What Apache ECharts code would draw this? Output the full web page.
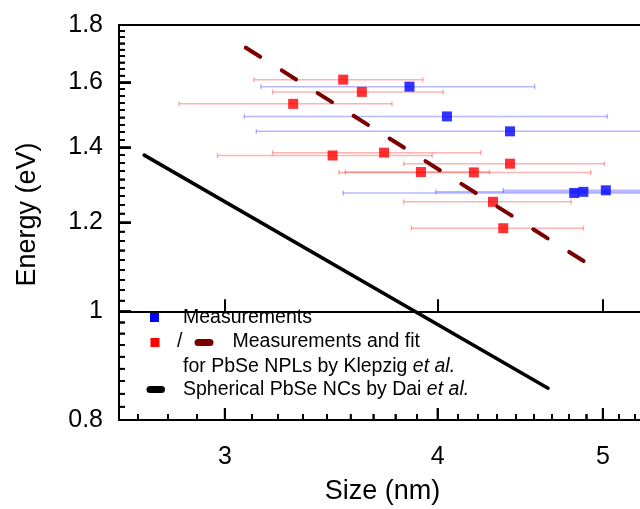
<!DOCTYPE html>
<html>
<head>
<meta charset="utf-8">
<script src="https://cdn.jsdelivr.net/npm/echarts@6/dist/echarts.min.js"></script>
<style>
  html, body { margin: 0; padding: 0; background: #fff; }
  #chart { width: 640px; height: 509px; }
</style>
</head>
<body>
<div id="chart"></div>
<script>
// axis ranges and tick labels
const xRange = [2.6, 5.3];
const yRange = [0.8, 1.8];
const xMajorTicks = [3, 4, 5];
const yMajorTicks = [0.8, 1, 1.2, 1.4, 1.6, 1.8];

// Klepzig et al. NPL measurements (red)
const redSize = [3.52, 3.61, 3.29, 3.47, 3.72, 4.41, 3.91, 4.20, 4.31, 4.37];
const redEnergy = [1.609, 1.569, 1.531, 1.377, 1.385, 1.354, 1.331, 1.330, 1.252, 1.186];
const redSizeLo = [3.12, 3.20, 2.82, 2.97, 3.20, 3.82, 3.53, 3.50, 3.82, 3.86];
const redSizeHi = [3.92, 4.03, 3.76, 3.97, 4.24, 5.01, 4.29, 4.92, 4.79, 4.87];

// own measurements (blue)
const blueSize = [3.85, 4.05, 4.41, 4.81, 4.87, 5.02];
const blueEnergy = [1.586, 1.492, 1.447, 1.275, 1.278, 1.282];
const blueSizeLo = [3.15, 3.08, 3.13, 3.52, 3.99, 4.37];
const blueSizeHi = [4.56, 5.03, 5.6, 5.9, 6.2, 6.5];

// fit line (Klepzig) and spherical NCs (Dai)
const fitSize = [3.086, 4.893];
const fitEnergy = [1.718, 1.104];
const daiSize = [2.69, 4.643];
const daiEnergy = [1.378, 0.854];

const font = '"Liberation Sans", Arial, sans-serif';

// 8 minor ticks between majors, spaced linearly, kept inside the axis range
const minorTicks = (start, end, step, range) => {
  const out = [];
  for (let v = start; v < end - 1e-9; v += step) {
    for (let k = 1; k < 9; k++) {
      const t = +(v + (k * step) / 9).toFixed(5);
      if (t > range[0] && t < range[1]) out.push(t);
    }
  }
  return out;
};
const xMinorTicks = minorTicks(2, 6, 1, xRange);
const yMinorTicks = minorTicks(0.6, 2.0, 0.2, yRange);

// inward ticks: [x, y, length, direction] (0 = up from x axis, 1 = right from y axis)
const tickData = [
  ...xMajorTicks.map((t) => [t, yRange[0], 12, 0]),
  ...xMinorTicks.map((t) => [t, yRange[0], 6, 0]),
  ...yMajorTicks.map((t) => [xRange[0], t, 12, 1]),
  ...yMinorTicks.map((t) => [xRange[0], t, 6, 1])
];

const renderTick = (params, api) => {
  const p = api.coord([api.value(0), api.value(1)]);
  const len = api.value(2);
  const up = api.value(3) === 0;
  return {
    type: 'line',
    shape: up
      ? { x1: p[0], y1: p[1], x2: p[0], y2: p[1] - len }
      : { x1: p[0], y1: p[1], x2: p[0] + len, y2: p[1] },
    style: { stroke: '#000', lineWidth: len > 8 ? 2 : 1.5 }
  };
};

const errorBars = (color) => (params, api) => {
  const y = api.value(0);
  const a = api.coord([api.value(1), y]);
  const b = api.coord([api.value(2), y]);
  const h = 2.5;
  return {
    type: 'group',
    children: [
      { type: 'line', shape: { x1: a[0], y1: a[1], x2: b[0], y2: b[1] }, style: { stroke: color, lineWidth: 1.5 } },
      { type: 'line', shape: { x1: a[0], y1: a[1] - h, x2: a[0], y2: a[1] + h }, style: { stroke: color, lineWidth: 1.5 } },
      { type: 'line', shape: { x1: b[0], y1: b[1] - h, x2: b[0], y2: b[1] + h }, style: { stroke: color, lineWidth: 1.5 } }
    ]
  };
};

const zip = (xs, ys) => xs.map((x, i) => [x, ys[i]]);

// tick-only axes in log10 space, lying exactly over the log axes
const tickAxis = (range, pos, ticks, len, width) => ({
  type: 'value',
  min: Math.log10(range[0]),
  max: Math.log10(range[1]),
  position: pos,
  splitLine: { show: false },
  axisLine: { show: false },
  axisLabel: { show: false },
  axisTick: { show: true, inside: true, length: len, lineStyle: { color: '#000', width }, customValues: ticks.map(Math.log10) }
});

const legendGraphic = [
  { type: 'rect', shape: { x: 150, y: 313, width: 9, height: 9 }, style: { fill: '#0000ff' } },
  { type: 'text', x: 183, y: 318, style: { text: 'Measurements', font: '19.5px ' + font, fill: '#000', verticalAlign: 'middle' } },
  { type: 'rect', shape: { x: 150.5, y: 338, width: 9, height: 9 }, style: { fill: '#ff0000' } },
  { type: 'text', x: 177, y: 342, style: { text: '/', font: '19.5px ' + font, fill: '#000', verticalAlign: 'middle' } },
  { type: 'rect', shape: { x: 194.5, y: 339, width: 19, height: 7, r: 3.5 }, style: { fill: '#7a0000' } },
  { type: 'text', x: 232.5, y: 342, style: { text: 'Measurements and fit', font: '19.5px ' + font, fill: '#000', verticalAlign: 'middle' } },
  {
    type: 'text', x: 183, y: 366.5,
    style: {
      text: 'for PbSe NPLs by Klepzig {i|et al.}',
      font: '19.5px ' + font, fill: '#000', verticalAlign: 'middle',
      rich: { i: { fontStyle: 'italic', fontSize: 19.5, fontFamily: font } }
    }
  },
  { type: 'rect', shape: { x: 146.5, y: 386, width: 18.5, height: 7, r: 3.5 }, style: { fill: '#000' } },
  {
    type: 'text', x: 183, y: 389.5,
    style: {
      text: 'Spherical PbSe NCs by Dai {i|et al.}',
      font: '19.5px ' + font, fill: '#000', verticalAlign: 'middle',
      rich: { i: { fontStyle: 'italic', fontSize: 19.5, fontFamily: font } }
    }
  }
];

const chart = echarts.init(document.getElementById('chart'));

chart.setOption({
  animation: false,
  grid: {
    left: 119, right: -6, top: 25, bottom: 89,
    outerBoundsMode: 'none',
    show: true, borderColor: '#000', borderWidth: 2
  },
  xAxis: [
    {
      type: 'log',
      min: xRange[0],
      max: xRange[1],
      position: 'bottom',
      splitLine: { show: false },
      axisLine: { show: true, lineStyle: { color: '#000', width: 2 } },
      axisTick: { show: false },
      axisLabel: { customValues: xMajorTicks, formatter: (v) => String(v), margin: 25, fontSize: 25, color: '#000', fontFamily: font },
      name: 'Size (nm)',
      nameLocation: 'middle',
      nameGap: 58,
      nameTextStyle: { fontSize: 27, color: '#000', fontFamily: font }
    },
    tickAxis(xRange, 'bottom', xMajorTicks, 12, 2),
    tickAxis(xRange, 'bottom', xMinorTicks, 6, 1.5)
  ],
  yAxis: [
    {
      type: 'log',
      min: yRange[0],
      max: yRange[1],
      position: 'left',
      splitLine: { show: false },
      axisLine: { show: true, lineStyle: { color: '#000', width: 2 } },
      axisTick: { show: false },
      axisLabel: { customValues: yMajorTicks, formatter: (v) => String(v), margin: 16, fontSize: 25, color: '#000', fontFamily: font },
      name: 'Energy (eV)',
      nameLocation: 'middle',
      nameGap: 78,
      nameTextStyle: { fontSize: 27, color: '#000', fontFamily: font, padding: [0, 0, 0, 16] }
    },
    tickAxis(yRange, 'left', yMajorTicks, 12, 2),
    tickAxis(yRange, 'left', yMinorTicks, 6, 1.5)
  ],
  series: [
    {
      type: 'custom',
      silent: true,
      clip: false,
      z: 10,
      renderItem: renderTick,
      encode: { x: 0, y: 1 },
      data: tickData
    },
    {
      type: 'custom',
      renderItem: errorBars('rgba(255, 0, 0, 0.3)'),
      encode: { x: [1, 2], y: 0 },
      data: redEnergy.map((e, i) => [e, redSizeLo[i], redSizeHi[i]])
    },
    {
      type: 'custom',
      renderItem: errorBars('rgba(0, 0, 255, 0.28)'),
      encode: { x: [1, 2], y: 0 },
      data: blueEnergy.map((e, i) => [e, blueSizeLo[i], blueSizeHi[i]])
    },
    {
      type: 'line',
      data: zip(fitSize, fitEnergy),
      showSymbol: false,
      lineStyle: { color: '#7a0000', width: 4, type: [17, 25.5], cap: 'round' }
    },
    {
      type: 'line',
      data: zip(daiSize, daiEnergy),
      showSymbol: false,
      lineStyle: { color: '#000', width: 3.5, cap: 'round' }
    },
    {
      type: 'scatter',
      data: zip(redSize, redEnergy),
      symbol: 'rect',
      symbolSize: 10,
      itemStyle: { color: '#ff0000' }
    },
    {
      type: 'scatter',
      data: zip(blueSize, blueEnergy),
      symbol: 'rect',
      symbolSize: 10,
      itemStyle: { color: '#0000ff' }
    }
  ],
  graphic: legendGraphic
});

// fallback tick marks placed through the chart's own log scales
const tickRects = [];
tickData.forEach(([x, y, len, dir]) => {
  const p = chart.convertToPixel({ xAxisIndex: 0, yAxisIndex: 0 }, [x, y]);
  if (!p || !isFinite(p[0]) || !isFinite(p[1])) return;
  const w = len > 8 ? 2 : 1.5;
  tickRects.push({
    type: 'rect',
    z: 50,
    silent: true,
    shape: dir === 0
      ? { x: p[0] - w / 2, y: p[1] - len, width: w, height: len }
      : { x: p[0], y: p[1] - w / 2, width: len, height: w },
    style: { fill: '#000' }
  });
});
chart.setOption({ graphic: legendGraphic.concat(tickRects) });
</script>
</body>
</html>
